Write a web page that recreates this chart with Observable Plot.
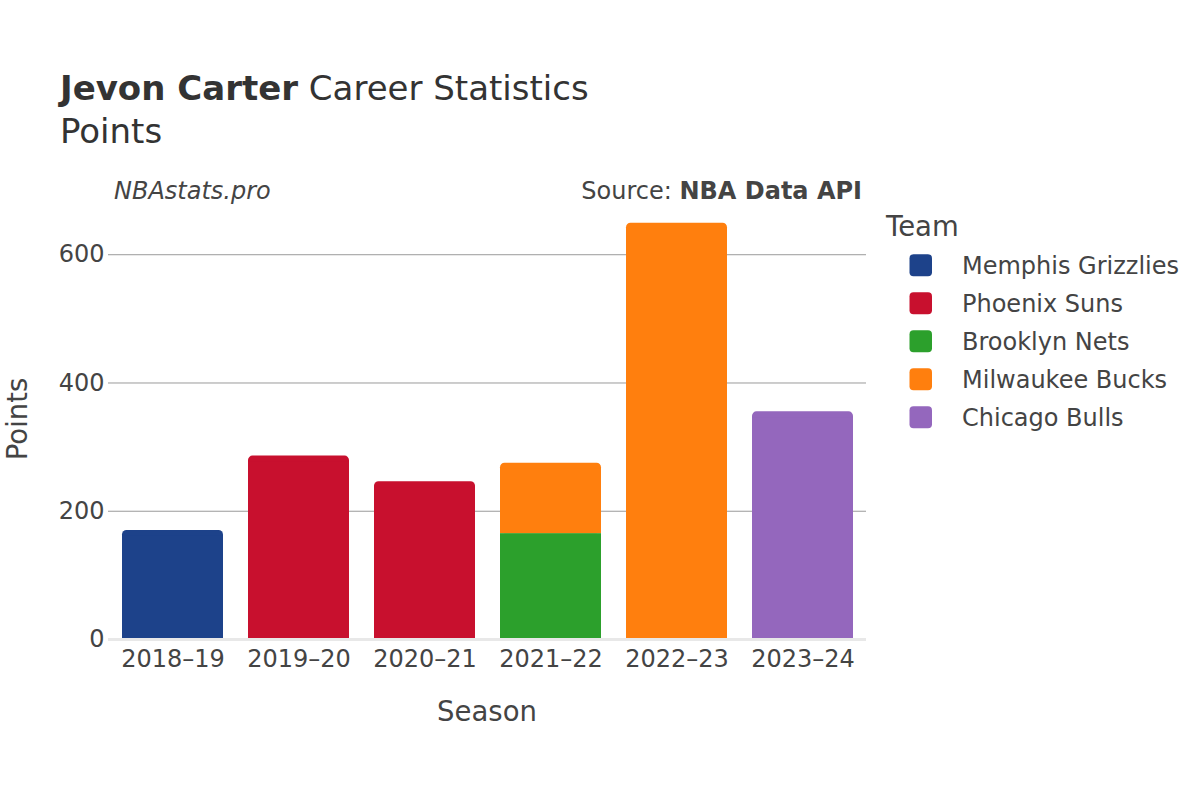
<!DOCTYPE html>
<html>
<head>
<meta charset="utf-8">
<script src="https://cdn.jsdelivr.net/npm/d3@7"></script>
<script src="https://cdn.jsdelivr.net/npm/@observablehq/plot@0.6"></script>
<style>
  html, body { margin: 0; padding: 0; background: #fff; }
  #chart { width: 1200px; height: 800px; position: relative; }
</style>
</head>
<body>
<div id="chart"></div>
<script>
// ---- data ----
const seasons = ["2018–19", "2019–20", "2020–21", "2021–22", "2022–23", "2023–24"];
const teams = ["Memphis Grizzlies", "Phoenix Suns", "Brooklyn Nets", "Milwaukee Bucks", "Chicago Bulls"];
const teamColors = ["#1d428a", "#c8102e", "#2ca02c", "#ff7f0e", "#9467bd"];
const rowSeason = ["2018–19", "2019–20", "2020–21", "2021–22", "2021–22", "2022–23", "2023–24"];
const rowTeam = ["Memphis Grizzlies", "Phoenix Suns", "Phoenix Suns", "Brooklyn Nets", "Milwaukee Bucks", "Milwaukee Bucks", "Chicago Bulls"];
const rowPoints = [170, 286, 246, 165, 110, 649, 355];
const yTicks = [0, 200, 400, 600];

// build stacked segments (in trace order)
const cum = {};
const rows = rowSeason.map((s, i) => {
  const y1 = cum[s] || 0;
  const y2 = y1 + rowPoints[i];
  cum[s] = y2;
  return {season: s, team: rowTeam[i], points: rowPoints[i], y1, y2};
});
rows.forEach(r => { r.top = r.y2 === cum[r.season]; });
const topRows = rows.filter(r => r.top);
const lowRows = rows.filter(r => !r.top);

const W = 1200, H = 800;
const mL = 108, mR = 334, mT = 201, mB = 161;
const textColor = "#444";

const plot = Plot.plot({
  width: W,
  height: H,
  marginLeft: mL,
  marginRight: mR,
  marginTop: mT,
  marginBottom: mB,
  style: {fontFamily: "DejaVu Sans", color: textColor, background: "#fff", overflow: "visible"},
  x: {domain: seasons, paddingInner: 0.2, paddingOuter: 0.1, label: null},
  y: {domain: [0, 683], label: null},
  color: {domain: teams, range: teamColors},
  marks: [
    Plot.gridY(yTicks.filter(t => t > 0), {stroke: "#9a9a9a", strokeOpacity: 1, strokeWidth: 1}),
    Plot.barY(topRows, {x: "season", y1: "y1", y2: "y2", fill: "team", rx: 4.5}),
    Plot.barY(topRows, {x: "season", y1: "y1", y2: "y2", fill: "team", insetTop: 6}),
    Plot.barY(lowRows, {x: "season", y1: "y1", y2: "y2", fill: "team"}),
    Plot.barY(lowRows, {x: "season", y1: "y2", y2: "y2", stroke: "#fff", strokeOpacity: 0.6, strokeWidth: 1.2}),
    Plot.ruleY([0], {stroke: "#e8e8e8", strokeWidth: 3}),
    Plot.axisY({ticks: yTicks, tickSize: 0, tickPadding: 4, fontSize: 24, label: null}),
    Plot.axisX({tickSize: 0, tickPadding: 10, fontSize: 24, label: null})
  ]
});

document.getElementById("chart").appendChild(plot);

// ---- titles, annotations, legend ----
const svg = d3.select(plot);
const g = svg.append("g").attr("font-family", "DejaVu Sans").attr("fill", textColor).attr("text-anchor", "start");

const title = g.append("text").attr("x", 60).attr("y", 100).attr("font-size", 34).attr("fill", "#333").attr("text-anchor", "start");
title.append("tspan").attr("font-weight", "bold").text("Jevon Carter");
title.append("tspan").text(" Career Statistics");

g.append("text").attr("x", 60).attr("y", 143).attr("font-size", 34).attr("fill", "#333").attr("text-anchor", "start").text("Points");

g.append("text").attr("x", 114).attr("y", 199).attr("font-size", 24).attr("text-anchor", "start")
  .attr("font-style", "italic").text("NBAstats.pro");

const src = g.append("text").attr("x", 862).attr("y", 199).attr("font-size", 24).attr("text-anchor", "end");
src.append("tspan").text("Source: ");
src.append("tspan").attr("font-weight", "bold").text("NBA Data API");

g.append("text").attr("x", 487).attr("y", 721).attr("font-size", 27.5).attr("text-anchor", "middle").text("Season");

g.append("text").attr("transform", "translate(27,419) rotate(-90)").attr("font-size", 27.5)
  .attr("text-anchor", "middle").text("Points");

// legend
g.append("text").attr("x", 886).attr("y", 236).attr("font-size", 27.5).attr("text-anchor", "start").text("Team");
teams.forEach((t, i) => {
  const cy = 265.3 + i * 38;
  g.append("rect").attr("x", 909.5).attr("y", cy - 11).attr("width", 22.5).attr("height", 22)
    .attr("rx", 4).attr("fill", teamColors[i]);
  g.append("text").attr("x", 962).attr("y", cy + 8.7).attr("font-size", 24).attr("text-anchor", "start").text(t);
});
</script>
</body>
</html>
